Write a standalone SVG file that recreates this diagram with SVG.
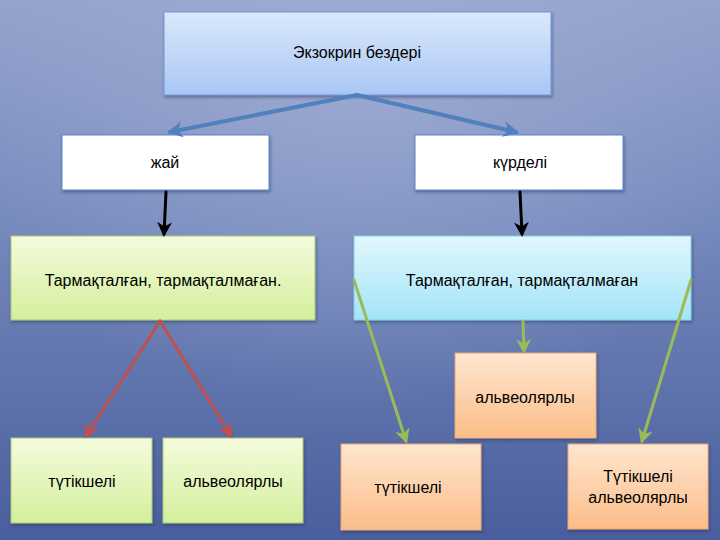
<svg xmlns="http://www.w3.org/2000/svg" width="720" height="540" viewBox="0 0 720 540">
<defs>
<linearGradient id="bg" x1="0" y1="0" x2="0" y2="1">
<stop offset="0" stop-color="#93a1cc"/>
<stop offset="0.45" stop-color="#7286ba"/>
<stop offset="1" stop-color="#4a5e9d"/>
</linearGradient>
<radialGradient id="bgGlow" cx="0.5" cy="0.15" r="0.6">
<stop offset="0" stop-color="#a8b4d8" stop-opacity="0.6"/>
<stop offset="1" stop-color="#a8b4d8" stop-opacity="0"/>
</radialGradient>
<linearGradient id="gTop" x1="0" y1="0" x2="0" y2="1">
<stop offset="0" stop-color="#dbe8fc"/>
<stop offset="1" stop-color="#a9c7f4"/>
</linearGradient>
<linearGradient id="gGreen" x1="0" y1="0" x2="0" y2="1">
<stop offset="0" stop-color="#f4fbdc"/>
<stop offset="1" stop-color="#d4ef9d"/>
</linearGradient>
<linearGradient id="gCyan" x1="0" y1="0" x2="0" y2="1">
<stop offset="0" stop-color="#e2f7fd"/>
<stop offset="1" stop-color="#a3e4f7"/>
</linearGradient>
<linearGradient id="gOrange" x1="0" y1="0" x2="0" y2="1">
<stop offset="0" stop-color="#ffe6d0"/>
<stop offset="1" stop-color="#fbbd88"/>
</linearGradient>
<filter id="sh" x="-10%" y="-10%" width="125%" height="130%">
<feDropShadow dx="1" dy="2" stdDeviation="1.5" flood-color="#1c2a55" flood-opacity="0.45"/>
</filter>
<marker id="mBlue" viewBox="0 0 10 10" refX="8" refY="5" markerWidth="4" markerHeight="4" orient="auto" markerUnits="strokeWidth">
<path d="M0,0 L10,5 L0,10 L3,5 Z" fill="#4f81bd"/>
</marker>
<marker id="mBlack" viewBox="0 0 10 10" refX="8" refY="5" markerWidth="5" markerHeight="5" orient="auto" markerUnits="strokeWidth">
<path d="M0,0 L10,5 L0,10 L3,5 Z" fill="#000"/>
</marker>
<marker id="mRed" viewBox="0 0 10 10" refX="8" refY="5" markerWidth="5" markerHeight="5" orient="auto" markerUnits="strokeWidth">
<path d="M0,0 L10,5 L0,10 L3,5 Z" fill="#c0504d"/>
</marker>
<marker id="mGreen" viewBox="0 0 10 10" refX="8" refY="5" markerWidth="5" markerHeight="5" orient="auto" markerUnits="strokeWidth">
<path d="M0,0 L10,5 L0,10 L3,5 Z" fill="#9bbb59"/>
</marker>
</defs>
<style>
.box{filter:url(#sh);stroke-width:1}
.t{font-family:"Liberation Sans","Noto Sans",sans-serif;font-size:16px;fill:#000;text-anchor:middle;dominant-baseline:central}
.c{fill:none;stroke-linecap:round}
</style>
<rect x="0" y="0" width="720" height="540" fill="url(#bg)"/>
<rect x="0" y="0" width="720" height="540" fill="url(#bgGlow)"/>

<g id="n-top">
<rect class="box" x="164" y="12" width="387" height="83" fill="url(#gTop)" stroke="#6f96d4"/>
<text class="t" x="357" y="52">Экзокрин бездері</text>
</g>
<g id="n-zhai">
<rect class="box" x="62" y="135" width="207" height="55" fill="#ffffff" stroke="#5b86c6"/>
<text class="t" x="165" y="162">жай</text>
</g>
<g id="n-kurdeli">
<rect class="box" x="415" y="135" width="208" height="55" fill="#ffffff" stroke="#5b86c6"/>
<text class="t" x="520" y="162">күрделі</text>
</g>
<g id="n-left-mid">
<rect class="box" x="11" y="236" width="304" height="84" fill="url(#gGreen)" stroke="#a9c77a"/>
<text class="t" x="163" y="280">Тармақталған, тармақталмаған.</text>
</g>
<g id="n-right-mid">
<rect class="box" x="354" y="236" width="337" height="84" fill="url(#gCyan)" stroke="#82cfe6"/>
<text class="t" x="522" y="280">Тармақталған, тармақталмаған</text>
</g>
<g id="n-l-tut">
<rect class="box" x="11" y="438" width="141" height="85" fill="url(#gGreen)" stroke="#a9c77a"/>
<text class="t" x="82" y="481">түтікшелі</text>
</g>
<g id="n-l-alv">
<rect class="box" x="163" y="438" width="140" height="85" fill="url(#gGreen)" stroke="#a9c77a"/>
<text class="t" x="233" y="481">альвеолярлы</text>
</g>
<g id="n-r-alv">
<rect class="box" x="455" y="353" width="141" height="85" fill="url(#gOrange)" stroke="#e8a878"/>
<text class="t" x="525" y="397">альвеолярлы</text>
</g>
<g id="n-r-tut">
<rect class="box" x="341" y="444" width="140" height="86" fill="url(#gOrange)" stroke="#e8a878"/>
<text class="t" x="408" y="487">түтікшелі</text>
</g>
<g id="n-r-both">
<rect class="box" x="568" y="444" width="140" height="85" fill="url(#gOrange)" stroke="#e8a878"/>
<text class="t" x="638" y="476">Түтікшелі</text>
<text class="t" x="638" y="497">альвеолярлы</text>
</g>

<g id="connectors" class="c">
<line x1="357" y1="95" x2="170" y2="132" stroke="#4f81bd" stroke-width="4" marker-end="url(#mBlue)"/>
<line x1="357" y1="95" x2="516" y2="132" stroke="#4f81bd" stroke-width="4" marker-end="url(#mBlue)"/>
<line x1="166" y1="192" x2="164" y2="234" stroke="#000" stroke-width="3" marker-end="url(#mBlack)"/>
<line x1="520" y1="192" x2="522" y2="234" stroke="#000" stroke-width="3" marker-end="url(#mBlack)"/>
<line x1="160" y1="321" x2="86" y2="436" stroke="#c0504d" stroke-width="3" marker-end="url(#mRed)"/>
<line x1="160" y1="321" x2="231" y2="436" stroke="#c0504d" stroke-width="3" marker-end="url(#mRed)"/>
<line x1="354" y1="280" x2="406" y2="441" stroke="#9bbb59" stroke-width="3" marker-end="url(#mGreen)"/>
<line x1="523" y1="321" x2="524" y2="351" stroke="#9bbb59" stroke-width="3" marker-end="url(#mGreen)"/>
<line x1="691" y1="280" x2="642" y2="441" stroke="#9bbb59" stroke-width="3" marker-end="url(#mGreen)"/>
</g>
</svg>
